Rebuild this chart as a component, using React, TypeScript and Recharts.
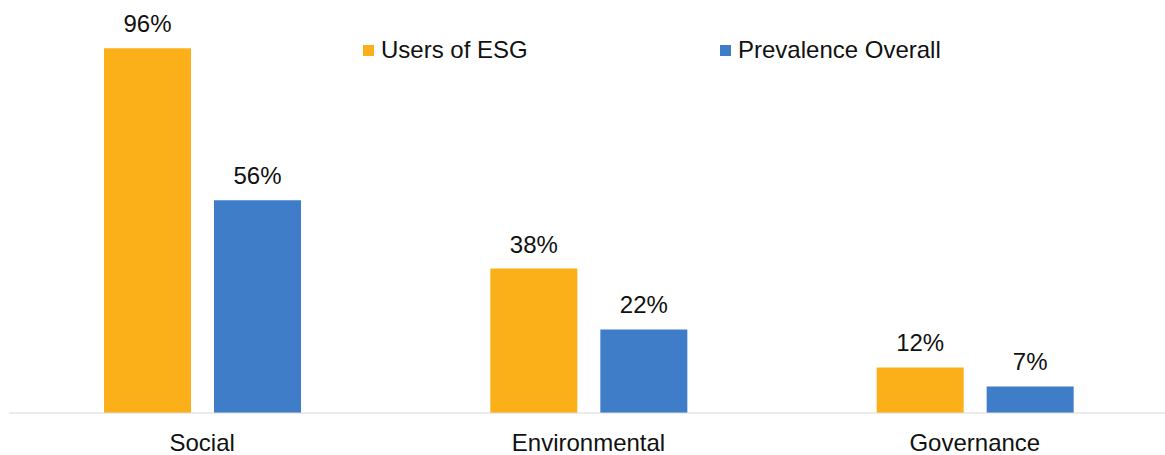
import React from 'react'
import { BarChart, Bar, XAxis, YAxis, Legend, LabelList } from 'recharts'

const categories = ['Social', 'Environmental', 'Governance']
const usersOfEsg = [96, 38, 12]
const prevalenceOverall = [56, 22, 7]

const series = [
  { key: 'users', name: 'Users of ESG', color: '#FBB01A' },
  { key: 'prevalence', name: 'Prevalence Overall', color: '#3F7DC9' },
]

const data = categories.map((category, i) => ({
  category,
  users: usersOfEsg[i],
  prevalence: prevalenceOverall[i],
}))

const FONT = '"Liberation Sans", Arial, Helvetica, sans-serif'
const FONT_SIZE = 24

function renderLegend() {
  return (
    <div style={{ display: 'flex', fontFamily: FONT, fontSize: FONT_SIZE, color: '#111' }}>
      {series.map((s) => (
        <div key={s.key} style={{ display: 'flex', alignItems: 'center', width: 357 }}>
          <span style={{ width: 11, height: 11, background: s.color, marginRight: 7 }} />
          <span style={{ lineHeight: '26px' }}>{s.name}</span>
        </div>
      ))}
    </div>
  )
}

export default function App() {
  return (
    <div
      style={{
        position: 'absolute',
        left: 0,
        top: 0,
        width: 1165,
        height: 455,
        overflow: 'hidden',
        background: '#fff',
      }}
    >
      <BarChart
        width={1170}
        height={455}
        data={data}
        margin={{ top: 33, right: 2, left: 9, bottom: 0 }}
        barSize={87}
        barGap={23}
      >
        <XAxis
          dataKey="category"
          height={42}
          axisLine={{ stroke: '#d9d9d9', strokeWidth: 1 }}
          tickLine={false}
          tickSize={0}
          tickMargin={21}
          tick={{ fill: '#111', fontSize: FONT_SIZE, fontFamily: FONT }}
        />
        <YAxis hide domain={[0, 100]} />
        <Legend
          content={renderLegend}
          layout="horizontal"
          verticalAlign="middle"
          align="center"
          wrapperStyle={{ top: 37, left: 363, width: 'auto' }}
        />
        {series.map((s) => (
          <Bar key={s.key} dataKey={s.key} name={s.name} fill={s.color} isAnimationActive={false}>
            <LabelList
              dataKey={s.key}
              position="top"
              offset={16}
              formatter={(v: number) => `${v}%`}
              fill="#111"
              fontSize={FONT_SIZE}
              fontFamily={FONT}
            />
          </Bar>
        ))}
      </BarChart>
    </div>
  )
}
